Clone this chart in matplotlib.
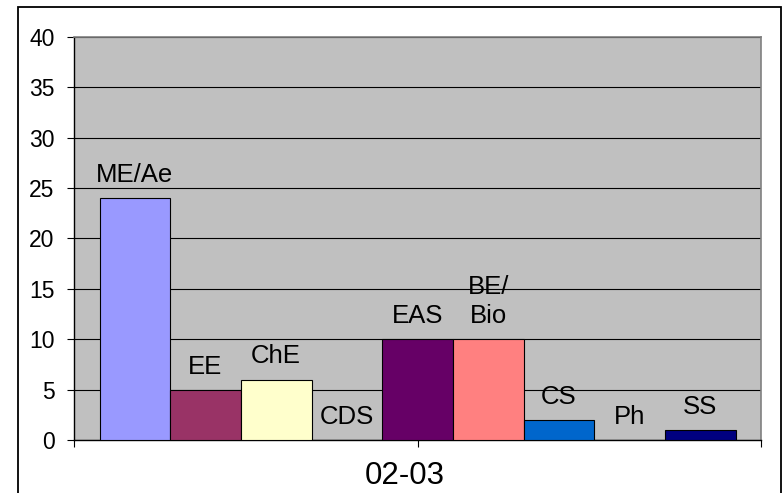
import matplotlib
matplotlib.use("Agg")
import matplotlib.pyplot as plt
import matplotlib.transforms as mtransforms
from matplotlib.patches import Rectangle
import numpy as np

plt.rcParams['font.family'] = ['Liberation Sans', 'DejaVu Sans']

# 02-03 counts per department
category = "02-03"
series = ["ME/Ae", "EE", "ChE", "CDS", "EAS", "BE/\nBio", "CS", "Ph", "SS"]
values = [24, 5, 6, 0, 10, 10, 2, 0, 1]
colors = ["#9999FF", "#993366", "#FFFFCC", "#CCFFFF", "#660066",
          "#FF8080", "#0066CC", "#CCCCFF", "#000080"]

fig = plt.figure(figsize=(7.84, 4.93), dpi=100)
ax = fig.add_axes([74/784, 53/493, 687/784, 403/493])
ax.set_facecolor("#C0C0C0")

n = len(values)
bw = 636 / 687 / n
offsets = (np.arange(n) - (n - 1) / 2) * bw

ax.yaxis.grid(True, color="black", linewidth=0.8, zorder=0)
ax.set_axisbelow(True)

for off, v, c, name in zip(offsets, values, colors, series):
    ax.bar(off, v, bw, color=c, edgecolor="black", linewidth=0.8, zorder=3)
    ax.annotate(name, (off, v), xytext=(0, 8), textcoords="offset points",
                ha="center", va="bottom", fontsize=18.5, linespacing=1.25,
                zorder=4)

ax.set_xlim(-0.5, 0.5)
ax.set_ylim(0, 40)
ax.set_yticks(range(0, 41, 5))
ax.set_xticks([-0.5, 0, 0.5])
ax.set_xticklabels(["", category, ""])
ax.tick_params(axis="y", labelsize=16.5, length=5, width=0.8, pad=9)
ax.tick_params(axis="x", labelsize=22.5, length=5, width=0.8, pad=10)

# Excel puts the category label a little left of its tick
shift = mtransforms.ScaledTranslation(-13/100, 0, fig.dpi_scale_trans)
for lab in ax.get_xticklabels():
    lab.set_transform(lab.get_transform() + shift)

for s in ["top", "right"]:
    ax.spines[s].set_color("#808080")
    ax.spines[s].set_linewidth(1.2)
for s in ["left", "bottom"]:
    ax.spines[s].set_color("black")
    ax.spines[s].set_linewidth(1.0)

# outer chart border (runs off the bottom of the image)
fig.patches.append(Rectangle((18/784, -0.1), 763/784, 1.1 - 7/493,
                             transform=fig.transFigure, fill=False,
                             edgecolor="black", linewidth=1.3, clip_on=False))

fig.savefig("out.png", dpi=100)
